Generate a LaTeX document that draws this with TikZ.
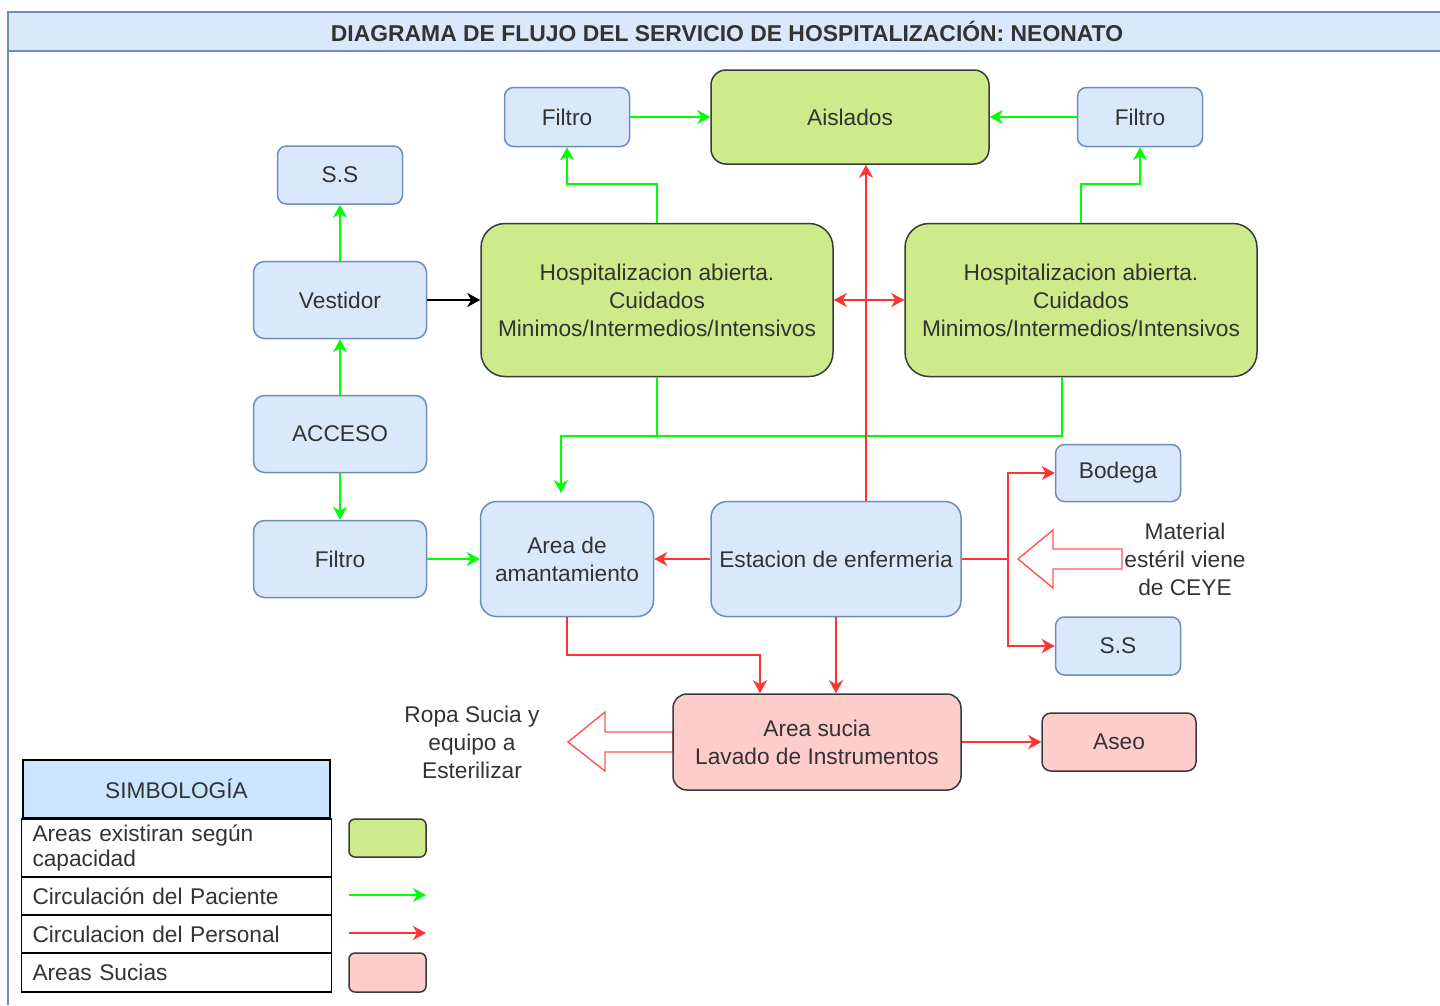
\documentclass[tikz,border=0pt]{standalone}
\usepackage{fontspec}
\setmainfont{Liberation Sans}
\usetikzlibrary{arrows.meta}
\definecolor{bfill}{HTML}{DAE8FC}
\definecolor{bline}{HTML}{6C8EBF}
\definecolor{gfill}{HTML}{CDEB8B}
\definecolor{dline}{HTML}{36393D}
\definecolor{pfill}{HTML}{FFCCCC}
\definecolor{gcol}{HTML}{00FF00}
\definecolor{rcol}{HTML}{FF3333}
\definecolor{rsoft}{HTML}{FF5555}
\definecolor{txt}{HTML}{333333}
\definecolor{hfill}{HTML}{CCE5FF}
\begin{document}
\begin{tikzpicture}[x=1pt,y=-1pt,
  font=\fontsize{22.7}{28}\selectfont,
  every node/.style={text=txt},
  box/.style={draw, line width=1.5pt, align=center, inner sep=0pt},
  bluebox/.style={box, fill=bfill, draw=bline, rounded corners=#1},
  greenbox/.style={box, fill=gfill, draw=dline, rounded corners=#1},
  pinkbox/.style={box, fill=pfill, draw=dline, rounded corners=#1},
  tip/.style={-{Stealth[length=13pt,width=14pt,inset=4pt]}},
  garrow/.style={draw=gcol, line width=2pt, tip},
  rarrow/.style={draw=rcol, line width=2pt, tip},
  redline/.style={draw=rcol, line width=2pt},
  greenline/.style={draw=gcol, line width=2pt},
  karrow/.style={draw=black, line width=2pt, tip},
  blockarrow/.style={draw=rsoft, line width=1.4pt, fill=white, line join=miter},
  legcell/.style={draw=black, line width=1.5pt, inner sep=0pt, text width=290pt, align=left},
  plain/.style={align=center, inner sep=0pt}
]
\useasboundingbox (0,0) rectangle (1440,1005);
\fill[white] (0,0) rectangle (1440,1005);

% container and title bar
\fill[bfill] (8,12) rectangle (1440,51);
\draw[bline, line width=1.5pt] (1440,12) -- (8,12) -- (8,1005);
\draw[bline, line width=1.5pt] (8,51) -- (1440,51);
\node[plain, font=\fontsize{22.9}{28}\selectfont\bfseries] (title) at (727,31.5) {DIAGRAMA DE FLUJO DEL SERVICIO DE HOSPITALIZACIÓN: NEONATO};

% block arrows (drawn beneath nodes)
\draw[blockarrow] (1122,549) -- (1053,549) -- (1053,530) -- (1018,559) -- (1053,588) -- (1053,569) -- (1122,569) -- cycle;
\draw[blockarrow] (673,732) -- (605,732) -- (605,712) -- (568,742) -- (605,771) -- (605,752) -- (673,752) -- cycle;

% nodes
\node[bluebox=9pt, minimum width=125pt, minimum height=59pt] (filtroA) at (567,117) {Filtro};
\node[greenbox=15pt, minimum width=278pt, minimum height=94pt] (aislados) at (850,117) {Aislados};
\node[bluebox=9pt, minimum width=125pt, minimum height=59pt] (filtroB) at (1140,117) {Filtro};
\node[bluebox=9pt, minimum width=125pt, minimum height=58pt] (ssA) at (340,175) {S.S};
\node[bluebox=11pt, minimum width=173pt, minimum height=77pt] (vestidor) at (340,300) {Vestidor};
\node[bluebox=11pt, minimum width=173pt, minimum height=77pt] (acceso) at (340,434) {ACCESO};
\node[bluebox=11pt, minimum width=173pt, minimum height=77pt] (filtroC) at (340,559) {Filtro};
\node[greenbox=24pt, minimum width=352pt, minimum height=153pt] (hospA) at (657,300) {Hospitalizacion abierta.\\Cuidados\\Minimos/Intermedios/Intensivos};
\node[greenbox=24pt, minimum width=352pt, minimum height=153pt] (hospB) at (1081,300) {Hospitalizacion abierta.\\Cuidados\\Minimos/Intermedios/Intensivos};
\node[bluebox=9pt, minimum width=125pt, minimum height=57pt] (bodega) at (1118,473) {Bodega};
\node[bluebox=9pt, minimum width=125pt, minimum height=58pt] (ssB) at (1118,646) {S.S};
\node[bluebox=16pt, minimum width=173pt, minimum height=115pt] (amam) at (567,559) {Area de\\amantamiento};
\node[bluebox=16pt, minimum width=250pt, minimum height=115pt] (estacion) at (836,559) {Estacion de enfermeria};
\node[pinkbox=14pt, minimum width=288pt, minimum height=96pt] (sucia) at (817,742) {Area sucia\\Lavado de Instrumentos};
\node[pinkbox=9pt, minimum width=154pt, minimum height=58pt] (aseo) at (1119,742) {Aseo};
\node[plain] (material) at (1185,559) {Material\\estéril viene\\de CEYE};
\node[plain] (ropa) at (472,742) {Ropa Sucia y\\equipo a\\Esterilizar};

% green connectors (patient)
\draw[garrow] (filtroA.east) -- (filtroA.east -| aislados.west);
\draw[garrow] (filtroB.west) -- (filtroB.west -| aislados.east);
\draw[garrow] (hospA.north) -- ++(0,-39) -| (filtroA.south);
\draw[garrow] (hospB.north) -- ++(0,-39) -| (filtroB.south);
\draw[garrow] (vestidor.north) -- (ssA.south);
\draw[garrow] (acceso.north) -- (vestidor.south);
\draw[garrow] (acceso.south) -- (filtroC.north);
\draw[garrow] (filtroC.east) -- (filtroC.east -| amam.west);
\coordinate (gj) at (657,436);
\coordinate (gend) at (561,493);
\draw[garrow] (hospA.south) -- (gj) -| (gend);
\draw[greenline] ([xshift=-19pt]hospB.south) |- (gj);

% black connector
\draw[karrow] (vestidor.east) -- (vestidor.east -| hospA.west);

% red connectors (staff)
\draw[rarrow] ([xshift=30pt]estacion.north) -- ([xshift=16pt]aislados.south);
\draw[draw=rcol, line width=2pt, {Stealth[length=13pt,width=14pt,inset=4pt]}-{Stealth[length=13pt,width=14pt,inset=4pt]}] (hospA.east) -- (hospB.west);
\draw[rarrow] (estacion.west) -- (estacion.west -| amam.east);
\coordinate (rj) at (1008,559);
\draw[redline] (estacion.east) -- (rj);
\draw[rarrow] (rj) |- (bodega.west);
\draw[rarrow] (rj) |- (ssB.west);
\draw[rarrow] (amam.south) -- ++(0,38) -| ([xshift=-57pt]sucia.north);
\draw[rarrow] (estacion.south) -- (estacion.south |- sucia.north);
\draw[rarrow] (sucia.east) -- (aseo.west);

% legend
\node[legcell, fill=hfill, minimum width=307pt, minimum height=58pt, text width=307pt, align=center] (lhead) at (176.5,789) {SIMBOLOGÍA};
\node[legcell, fill=white, minimum width=307pt, minimum height=58pt, inner xsep=11pt, text width=288pt, font=\fontsize{22.7}{25.5}\selectfont] (lrow1) at (176.5,848) {Areas existiran según\\capacidad};
\node[legcell, fill=white, minimum width=307pt, minimum height=38pt, inner xsep=11pt, text width=288pt] (lrow2) at (176.5,896) {Circulación del Paciente};
\node[legcell, fill=white, minimum width=307pt, minimum height=38pt, inner xsep=11pt, text width=288pt] (lrow3) at (176.5,934) {Circulacion del Personal};
\node[legcell, fill=white, minimum width=307pt, minimum height=39pt, inner xsep=11pt, text width=288pt] (lrow4) at (176.5,972.5) {Areas Sucias};
\node[greenbox=6pt, minimum width=77pt, minimum height=38pt] (lgreen) at (387.5,838) {};
\coordinate (lg1) at (349,895);
\coordinate (lg2) at (426,895);
\draw[garrow] (lg1) -- (lg2);
\coordinate (lr1) at (349,933);
\coordinate (lr2) at (426,933);
\draw[rarrow] (lr1) -- (lr2);
\node[pinkbox=6pt, minimum width=77pt, minimum height=39pt] (lpink) at (387.5,972.5) {};
\end{tikzpicture}
\end{document}
